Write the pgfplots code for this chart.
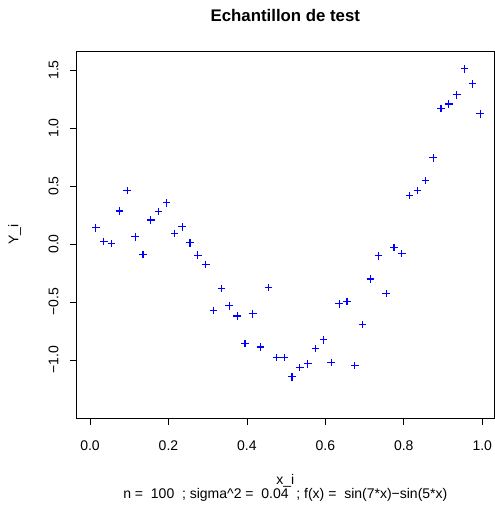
\documentclass[border=0pt]{standalone}
\usepackage{fontspec}
\setmainfont{Liberation Sans}
\usepackage{pgfplots}
\pgfplotsset{compat=1.18}
\usepackage{pgfplotstable}
\definecolor{pointblue}{RGB}{0,0,255}

% test sample: x_i and observed Y_i
\pgfplotstableread{
x      y
0.015  0.140
0.035  0.020
0.055  0.006
0.075  0.284
0.095  0.460
0.115  0.063
0.135 -0.092
0.155  0.207
0.175  0.279
0.195  0.356
0.215  0.092
0.235  0.149
0.255  0.011
0.275 -0.097
0.295 -0.175
0.315 -0.572
0.335 -0.385
0.355 -0.532
0.375 -0.621
0.395 -0.859
0.415 -0.601
0.435 -0.888
0.455 -0.376
0.475 -0.980
0.495 -0.980
0.515 -1.144
0.535 -1.066
0.555 -1.032
0.575 -0.902
0.595 -0.825
0.615 -1.020
0.635 -0.515
0.655 -0.494
0.675 -1.049
0.695 -0.695
0.715 -0.302
0.735 -0.101
0.755 -0.428
0.775 -0.029
0.795 -0.083
0.815  0.417
0.835  0.460
0.855  0.546
0.875  0.744
0.895  1.167
0.915  1.207
0.935  1.287
0.955  1.511
0.975  1.382
0.995  1.123
}\sample

\begin{document}
\fontsize{14pt}{16.8pt}\selectfont
\begin{tikzpicture}
\useasboundingbox (0,0) rectangle (495pt,507pt);
\begin{axis}[
  at={(76.7pt,89pt)}, anchor=south west,
  scale only axis,
  width=417.3pt, height=367pt,
  xmin=-0.034, xmax=1.03,
  ymin=-1.5, ymax=1.664,
  axis line style={line width=0.8pt, draw=black},
  tick style={line width=0.8pt, draw=black},
  tick align=outside,
  major tick length=7pt,
  xtick pos=bottom, ytick pos=left,
  xtick={0,0.2,0.4,0.6,0.8,1},
  xticklabels={0.0,0.2,0.4,0.6,0.8,1.0},
  ytick={-1,-0.5,0,0.5,1,1.5},
  yticklabels={−1.0,−0.5,0.0,0.5,1.0,1.5},
  xticklabel style={anchor=north, inner sep=0pt, yshift=-16pt},
  yticklabel style={xshift=-11pt, rotate=90, anchor=south, inner sep=0pt},
  every axis title/.style={at={(axis description cs:0.5,1.0817)}, anchor=base,
    font=\fontsize{16.8pt}{20pt}\selectfont\bfseries},
  title={Echantillon de test},
  every axis x label/.style={at={(axis description cs:0.5,-0.180)}, anchor=base},
  xlabel={x\_i},
  every axis y label/.style={at={(axis description cs:-0.140,0.5)}, rotate=90, anchor=base},
  ylabel={Y\_i},
  clip=false,
]
\addplot[only marks, mark=+, mark size=3.8pt, color=pointblue,
  mark options={line width=1.15pt}] table[x=x, y=y] {\sample};
\node[anchor=base] at (axis description cs:0.5,-0.2207)
  {n =\ \ 100\ \ ; sigma\textasciicircum 2 =\ \ 0.04\ \ ; f(x) =\ \ sin(7*x)−sin(5*x)};
\end{axis}
\end{tikzpicture}
\end{document}
